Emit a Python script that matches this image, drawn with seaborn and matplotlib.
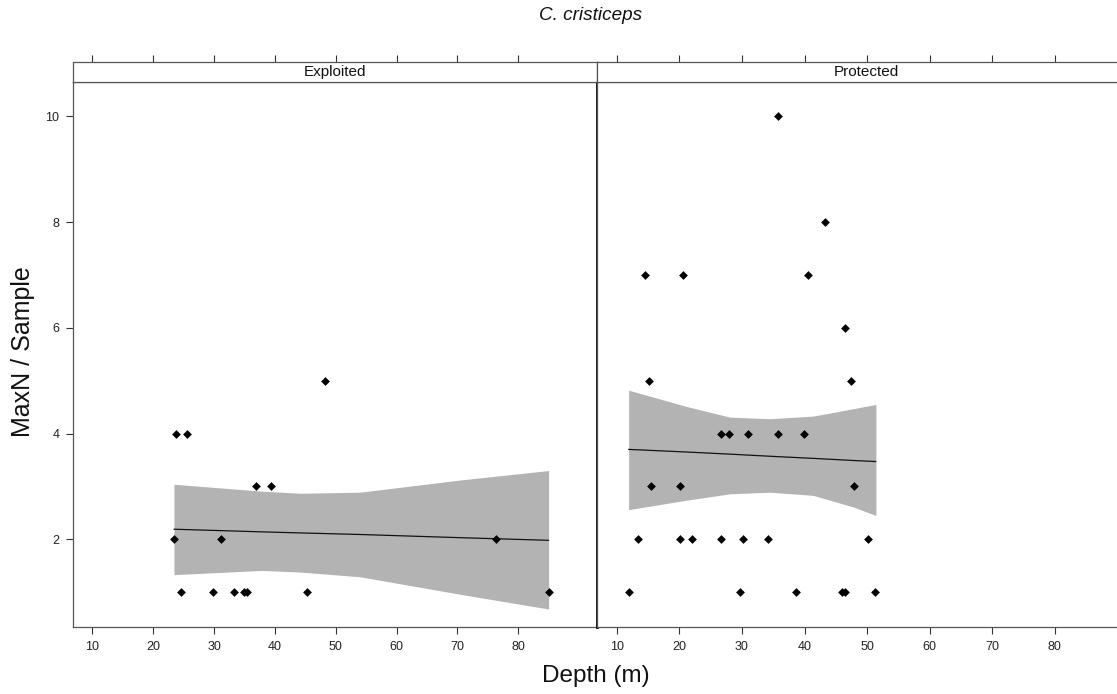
import numpy as np
import pandas as pd
import matplotlib
matplotlib.use("Agg")
import matplotlib.pyplot as plt
import seaborn as sns

# ---- data ----
panels = ["Exploited", "Protected"]
exp_depth = [23.7, 25.6, 36.9, 39.4, 23.4, 31.2, 76.3, 24.5, 29.8, 33.3, 34.9, 35.4, 45.2, 85.0, 48.3]
exp_maxn = [4, 4, 3, 3, 2, 2, 2, 1, 1, 1, 1, 1, 1, 1, 5]
pro_depth = [35.7, 43.2, 14.5, 20.6, 40.6, 46.4, 15.1, 47.4, 26.7, 28.0, 30.9, 35.7, 39.9,
             15.4, 20.1, 47.9, 13.4, 20.1, 22.0, 26.7, 30.1, 34.1, 50.1, 11.9, 29.7, 38.6,
             46.0, 46.4, 51.3]
pro_maxn = [10, 8, 7, 7, 7, 6, 5, 5, 4, 4, 4, 4, 4, 3, 3, 3, 2, 2, 2, 2, 2, 2, 2, 1, 1, 1, 1, 1, 1]

# fitted model and 95% band
exp_fit_depth = [23.4, 37.8, 44.1, 54.0, 70.4, 85.0]
exp_fit = [2.19, 2.14, 2.12, 2.09, 2.03, 1.98]
exp_fit_upper = [3.04, 2.91, 2.87, 2.89, 3.12, 3.30]
exp_fit_lower = [1.33, 1.41, 1.38, 1.29, 0.96, 0.68]
pro_fit_depth = [11.9, 21.2, 28.1, 34.5, 41.4, 47.8, 51.4]
pro_fit = [3.70, 3.65, 3.61, 3.57, 3.53, 3.49, 3.47]
pro_fit_upper = [4.82, 4.51, 4.31, 4.28, 4.33, 4.47, 4.55]
pro_fit_lower = [2.56, 2.74, 2.86, 2.89, 2.83, 2.61, 2.45]

x_ticks = [10, 20, 30, 40, 50, 60, 70, 80]
y_ticks = [2, 4, 6, 8, 10]
title = "C. cristiceps"
xlabel = "Depth (m)"
ylabel = "MaxN / Sample"

df = pd.DataFrame({
    "Depth": exp_depth + pro_depth,
    "MaxN": exp_maxn + pro_maxn,
    "Status": [panels[0]] * len(exp_depth) + [panels[1]] * len(pro_depth),
})
fits = {
    panels[0]: pd.DataFrame({"Depth": exp_fit_depth, "fit": exp_fit,
                             "upper": exp_fit_upper, "lower": exp_fit_lower}),
    panels[1]: pd.DataFrame({"Depth": pro_fit_depth, "fit": pro_fit,
                             "upper": pro_fit_upper, "lower": pro_fit_lower}),
}

sns.set_theme(style="white")
plt.rcParams["font.family"] = ["Liberation Sans", "DejaVu Sans"]

W, H = 1117, 694
fig = plt.figure(figsize=(W / 100, H / 100), dpi=100)

def fx(px):
    return px / W

def fy(py):
    return 1 - py / H

frame_col = "#555555"
xlim = (6.85, 92.95)
ylim = (0.34, 10.65)
ax_top, ax_bot = 82, 627
strip_top = 62.3
geo = [(73.3, 597.0), (597.0, 1136.0)]

for i, (name, (l, r)) in enumerate(zip(panels, geo)):
    ax = fig.add_axes([fx(l), fy(ax_bot), (r - l) / W, (ax_bot - ax_top) / H])
    sub = df[df["Status"] == name]
    fd = fits[name]
    ax.fill_between(fd["Depth"], fd["lower"], fd["upper"], color="#b3b3b3",
                    linewidth=0, zorder=1)
    sns.lineplot(data=fd, x="Depth", y="fit", ax=ax, color="#111111", lw=0.9,
                 zorder=2, estimator=None)
    sns.scatterplot(data=sub, x="Depth", y="MaxN", ax=ax, marker="D", s=20,
                    color="black", linewidth=0, zorder=5)
    ax.set_xlim(xlim)
    ax.set_ylim(ylim)
    ax.set_xlabel("")
    ax.set_ylabel("")
    ax.set_xticks(x_ticks)
    ax.set_xticklabels([str(t) for t in x_ticks])
    ax.set_yticks(y_ticks)
    ax.tick_params(axis="both", which="both", direction="out", length=5, width=0.8,
                   color="#333333", labelsize=9, labelcolor="#222222", pad=5,
                   bottom=True, left=(i == 0), right=(i == 0), top=False,
                   labelleft=(i == 0), labelright=False)
    for s in ax.spines.values():
        s.set_color(frame_col)
        s.set_linewidth(0.9)
    if i == 0:
        ax.spines["right"].set_color("black")
        ax.spines["right"].set_linewidth(2.0)
        ax.spines["right"].set_zorder(10)

    # strip
    sax = fig.add_axes([fx(l), fy(ax_top), (r - l) / W, (ax_top - strip_top) / H])
    sax.set_xlim(xlim)
    sax.set_ylim(0, 1)
    sax.set_xticks(x_ticks)
    sax.set_yticks([])
    sax.tick_params(axis="x", direction="out", length=5, width=0.8, color="#333333",
                    bottom=False, top=True, labelbottom=False, labeltop=False)
    sax.set_facecolor("white")
    for s in sax.spines.values():
        s.set_color(frame_col)
        s.set_linewidth(0.9)
    sax.text(0.5, 0.5, name, transform=sax.transAxes, ha="center", va="center",
             fontsize=11, color="#111111")

fig.text(fx(591), fy(15), title, ha="center", va="center", fontsize=13.6, style="italic",
         color="#111111")
fig.text(fx(596), fy(676), xlabel, ha="center", va="center", fontsize=17.5, color="#111111")
fig.text(fx(23), fy(352), ylabel, ha="center", va="center", fontsize=18, rotation=90,
         color="#111111")

fig.savefig("out.png", dpi=100, facecolor="white")
